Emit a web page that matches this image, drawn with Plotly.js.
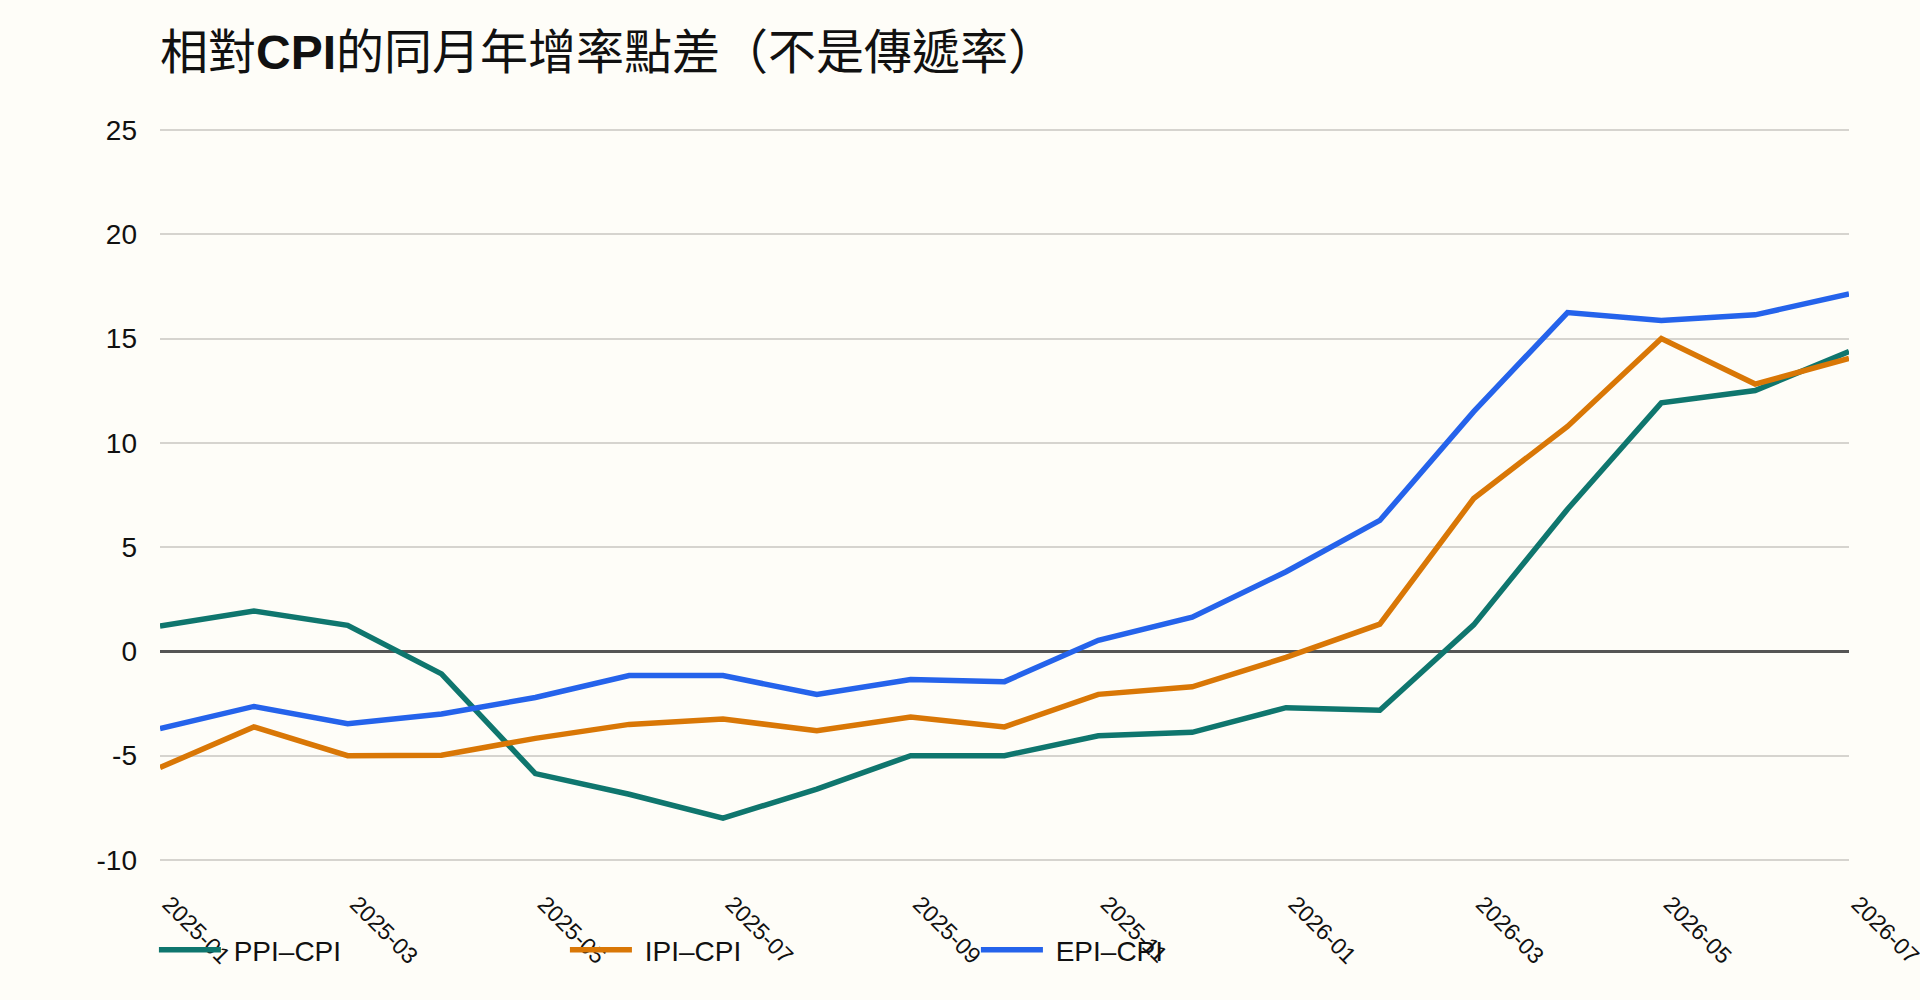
<!DOCTYPE html>
<html>
<head>
<meta charset="utf-8">
<script src="https://cdn.plot.ly/plotly-3.0.1.min.js"></script>
<style>
  html, body { margin: 0; padding: 0; background: #fefdf8; }
  #chart { width: 1920px; height: 1000px; }
</style>
</head>
<body>
<div id="chart"></div>
<script>
// monthly points, 2025-01 .. 2026-07
var months = ['2025-01', '2025-02', '2025-03', '2025-04', '2025-05', '2025-06', '2025-07',
              '2025-08', '2025-09', '2025-10', '2025-11', '2025-12', '2026-01', '2026-02',
              '2026-03', '2026-04', '2026-05', '2026-06', '2026-07'];

// YoY growth minus CPI YoY growth (percentage points)
var ppiCpi = [1.22, 1.94, 1.25, -1.08, -5.86, -6.85, -8.0, -6.6, -5.0, -5.0,
              -4.05, -3.88, -2.7, -2.82, 1.27, 6.82, 11.92, 12.51, 14.38];
var ipiCpi = [-5.57, -3.62, -5.0, -4.98, -4.17, -3.5, -3.24, -3.81, -3.15, -3.62,
              -2.06, -1.7, -0.29, 1.31, 7.33, 10.79, 15.0, 12.82, 14.05];
var epiCpi = [-3.7, -2.64, -3.47, -3.0, -2.21, -1.16, -1.16, -2.07, -1.35, -1.45,
              0.53, 1.64, 3.82, 6.28, 11.5, 16.25, 15.87, 16.14, 17.14];

var seriesNames = ['PPI–CPI', 'IPI–CPI', 'EPI–CPI'];
var seriesColors = ['#0f766e', '#d97706', '#2563eb'];

// y ticks, written with a plain hyphen like the source
var yTicks = [-10, -5, 0, 5, 10, 15, 20, 25];
var yTickText = yTicks.map(function(v) { return String(v); });

// every second month gets a label
var xTicks = months.filter(function(m, i) { return i % 2 === 0; });
var xTickText = xTicks.map(function(m) { return '\u00a0\u00a0' + m; });

var plotlyData = [ppiCpi, ipiCpi, epiCpi].map(function(values, i)
{
    return {
        x: months,
        y: values,
        type: 'scatter',
        mode: 'lines',
        name: '\u00a0' + seriesNames[i],
        line: { color: seriesColors[i], width: 5.5 },
        hoverinfo: 'x+y'
    };
});

var baseFont = 'Liberation Sans, Arial, Noto Sans CJK TC, sans-serif';

var plotlyLayout = {
    width: 1920,
    height: 1000,
    paper_bgcolor: '#fefdf8',
    plot_bgcolor: '#fefdf8',
    margin: { l: 160, r: 71, t: 128, b: 138 },
    font: { family: baseFont, color: '#111111' },
    title: {
        text: '相對<b>CPI</b>的同月年增率點差（不是傳遞率）',
        font: { family: 'Liberation Sans, Noto Sans CJK TC, sans-serif', size: 48, color: '#111111' },
        xref: 'container',
        yref: 'container',
        x: 160 / 1920,
        xanchor: 'left',
        y: 0.948,
        yanchor: 'middle'
    },
    xaxis: {
        type: 'category',
        range: [0, months.length - 1],
        tickmode: 'array',
        tickvals: xTicks,
        ticktext: xTickText,
        tickangle: 45,
        ticklabelstandoff: 14,
        showgrid: false,
        zeroline: false,
        showline: false,
        ticks: '',
        tickfont: { size: 23, color: '#111111' }
    },
    yaxis: {
        range: [-10.1, 25.1],
        tickmode: 'array',
        tickvals: yTicks,
        ticktext: yTickText,
        showgrid: true,
        gridcolor: '#d6d4cf',
        gridwidth: 1.5,
        zeroline: true,
        zerolinecolor: '#555555',
        zerolinewidth: 3,
        showline: false,
        ticks: '',
        ticklabelstandoff: 22,
        tickfont: { size: 28, color: '#111111' }
    },
    showlegend: true,
    legend: {
        orientation: 'h',
        x: -0.0036,
        xanchor: 'left',
        y: -0.12,
        yanchor: 'middle',
        bgcolor: 'rgba(0,0,0,0)',
        entrywidth: 334,
        entrywidthmode: 'pixels',
        itemwidth: 62,
        font: { size: 28, color: '#111111' }
    }
};

var plotlyConfig = {
    displayModeBar: false,
    responsive: false
};

Plotly.newPlot('chart', plotlyData, plotlyLayout, plotlyConfig);
</script>
</body>
</html>
